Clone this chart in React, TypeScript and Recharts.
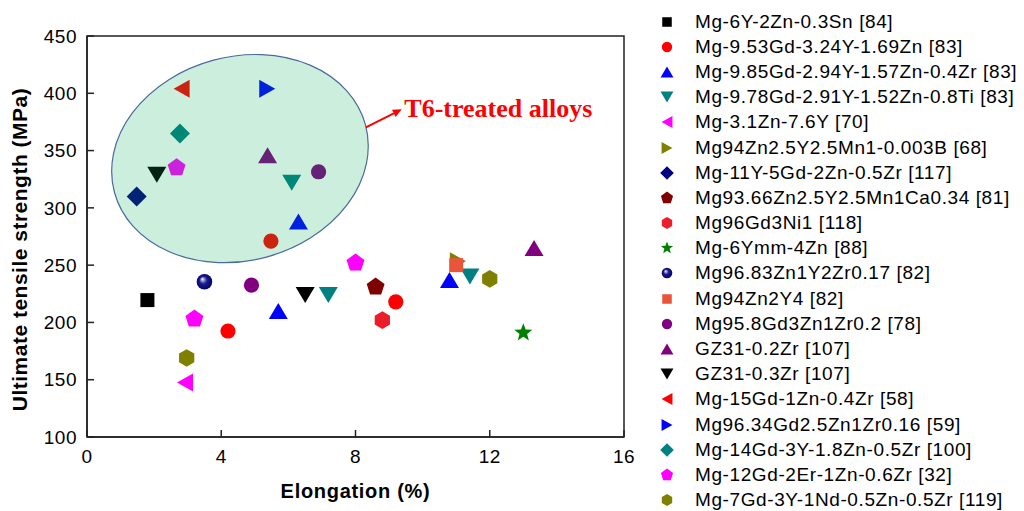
import React from 'react';
import { ScatterChart, Scatter, XAxis, YAxis, ReferenceArea, ReferenceLine, ReferenceDot } from 'recharts';

// legend order = drawing order
const alloyNames = [
    'Mg-6Y-2Zn-0.3Sn [84]',
    'Mg-9.53Gd-3.24Y-1.69Zn [83]',
    'Mg-9.85Gd-2.94Y-1.57Zn-0.4Zr [83]',
    'Mg-9.78Gd-2.91Y-1.52Zn-0.8Ti [83]',
    'Mg-3.1Zn-7.6Y [70]',
    'Mg94Zn2.5Y2.5Mn1-0.003B [68]',
    'Mg-11Y-5Gd-2Zn-0.5Zr [117]',
    'Mg93.66Zn2.5Y2.5Mn1Ca0.34 [81]',
    'Mg96Gd3Ni1 [118]',
    'Mg-6Ymm-4Zn [88]',
    'Mg96.83Zn1Y2Zr0.17 [82]',
    'Mg94Zn2Y4 [82]',
    'Mg95.8Gd3Zn1Zr0.2 [78]',
    'GZ31-0.2Zr [107]',
    'GZ31-0.3Zr [107]',
    'Mg-15Gd-1Zn-0.4Zr [58]',
    'Mg96.34Gd2.5Zn1Zr0.16 [59]',
    'Mg-14Gd-3Y-1.8Zn-0.5Zr [100]',
    'Mg-12Gd-2Er-1Zn-0.6Zr [32]',
    'Mg-7Gd-3Y-1Nd-0.5Zn-0.5Zr [119]',
];

const markerKinds = [
    'square', 'circle', 'triUp', 'triDown', 'triLeft', 'triRight', 'diamond', 'pentagon', 'hexagon', 'star',
    'sphere', 'square', 'circle', 'triUp', 'triDown', 'triLeft', 'triRight', 'diamond', 'pentagon', 'hexagon',
];

const markerColors = [
    '#000000', '#ff0000', '#0000ff', '#008080', '#ff00ff', '#808000', '#000080', '#800000', '#ec1c2a', '#008000',
    '#000080', '#e8553a', '#800080', '#800080', '#000000', '#ff0000', '#0000ff', '#008080', '#ff00ff', '#808000',
];

// elongation (%) per alloy
const elongation = [
    [1.8], [4.2, 9.2, 5.48], [5.7, 10.8, 6.3], [7.19, 11.41, 6.1], [2.92], [11.05], [1.48], [8.6], [8.8], [13.0],
    [3.5], [11.0], [4.9, 6.9], [13.32, 5.38], [6.5, 2.08], [2.82], [5.37], [2.77], [3.2, 8.0, 2.67], [2.97, 12.0],
];

// ultimate tensile strength (MPa) per alloy
const strength = [
    [219.5], [192.5, 218, 271], [210, 237, 288], [224, 240, 322], [147.5], [253.5], [310], [231], [202], [191],
    [235.5], [250], [232.5, 331.5], [265, 346], [224, 329], [404], [404], [365], [203, 252, 335], [169, 238],
];

const xTicks = [0, 4, 8, 12, 16];
const yTicks = [100, 150, 200, 250, 300, 350, 400, 450];

const series = alloyNames.map((name, i) => ({
    name,
    kind: markerKinds[i],
    color: markerColors[i],
    data: elongation[i].map((x, j) => ({ x, y: strength[i][j] })),
}));

const SANS = '"Liberation Sans", Arial, sans-serif';

const poly = (cx: number, cy: number, pts: number[][]) =>
    pts.map(([px, py]) => `${cx + px},${cy + py}`).join(' ');

const regular = (n: number, R: number, start: number) =>
    Array.from({ length: n }, (_, i) => {
        const a = start + (i * 2 * Math.PI) / n;
        return [R * Math.cos(a), R * Math.sin(a)];
    });

const starPts = (R: number, r: number) =>
    Array.from({ length: 10 }, (_, i) => {
        const a = -Math.PI / 2 + (i * Math.PI) / 5;
        const rad = i % 2 === 0 ? R : r;
        return [rad * Math.cos(a), rad * Math.sin(a)];
    });

function Marker({ kind, color, cx, cy, k = 1 }: any) {
    if (cx == null || cy == null) return null;
    const sc = (pts: number[][]) => pts.map(([a, b]) => [a * k, b * k]);
    switch (kind) {
        case 'square':
            return <rect x={cx - 7 * k} y={cy - 7 * k} width={14 * k} height={14 * k} fill={color} />;
        case 'circle':
            return <circle cx={cx} cy={cy} r={7.6 * k} fill={color} />;
        case 'sphere':
            return (
                <g>
                    <defs>
                        <radialGradient id="sphereGrad" cx="0.5" cy="0.5" r="0.55" fx="0.36" fy="0.32">
                            <stop offset="0" stopColor="#ffffff" />
                            <stop offset="0.18" stopColor="#9a9ad0" />
                            <stop offset="0.45" stopColor="#1a1a90" />
                            <stop offset="1" stopColor="#000060" />
                        </radialGradient>
                    </defs>
                    <circle cx={cx} cy={cy} r={7.8 * k} fill="url(#sphereGrad)" />
                </g>
            );
        case 'triUp':
            return <polygon points={poly(cx, cy, sc([[0, -8], [9.5, 8], [-9.5, 8]]))} fill={color} />;
        case 'triDown':
            return <polygon points={poly(cx, cy, sc([[0, 8], [9.5, -8], [-9.5, -8]]))} fill={color} />;
        case 'triLeft':
            return <polygon points={poly(cx, cy, sc([[-8, 0], [8, -9], [8, 9]]))} fill={color} />;
        case 'triRight':
            return <polygon points={poly(cx, cy, sc([[8, 0], [-8, -9], [-8, 9]]))} fill={color} />;
        case 'diamond':
            return <polygon points={poly(cx, cy, sc([[0, -10], [10, 0], [0, 10], [-10, 0]]))} fill={color} />;
        case 'pentagon':
            return <polygon points={poly(cx, cy, sc(regular(5, 9.4, -Math.PI / 2)))} fill={color} />;
        case 'hexagon':
            return <polygon points={poly(cx, cy, sc(regular(6, 8.8, -Math.PI / 2)))} fill={color} />;
        case 'star':
            return <polygon points={poly(cx, cy, sc(starPts(9.5, 4)))} fill={color} />;
        default:
            return null;
    }
}

const XTitle = (props: any) => {
    const vb = props.viewBox || { x: 87, y: 437, width: 537, height: 74 };
    return (
        <text x={vb.x + vb.width / 2} y={vb.y + 61} textAnchor="middle" fontFamily={SANS} fontWeight="bold"
            fontSize={20} letterSpacing={0.7} fill="#000">
            Elongation (%)
        </text>
    );
};

const YTitle = (props: any) => {
    const vb = props.viewBox || { x: 0, y: 36, width: 87, height: 401 };
    const cx = vb.x + 27;
    const cy = vb.y + vb.height / 2 + 13;
    return (
        <text x={cx} y={cy} transform={`rotate(-90 ${cx} ${cy})`} textAnchor="middle" fontFamily={SANS}
            fontWeight="bold" fontSize={21} letterSpacing={0.5} fill="#000">
            Ultimate tensile strength (MPa)
        </text>
    );
};

export default function App() {
    const tickStyle = { fill: '#000', fontSize: 19, fontFamily: SANS, letterSpacing: 0.5 };
    return (
        <div style={{ position: 'absolute', left: 0, top: 0, width: 1024, height: 511, background: '#fff' }}>
            <ScatterChart width={1024} height={511} margin={{ top: 36, right: 400, bottom: 0, left: 0 }}>
                <XAxis
                    type="number"
                    dataKey="x"
                    domain={[0, 16]}
                    ticks={xTicks}
                    allowDataOverflow
                    height={74}
                    tickSize={-7}
                    tickMargin={20}
                    axisLine={{ stroke: '#222', strokeWidth: 1.5 }}
                    tickLine={{ stroke: '#222', strokeWidth: 1.5 }}
                    tick={tickStyle}
                    label={XTitle}
                />
                <YAxis
                    type="number"
                    dataKey="y"
                    domain={[100, 450]}
                    ticks={yTicks}
                    allowDataOverflow
                    width={87}
                    tickSize={-7}
                    tickMargin={17}
                    axisLine={{ stroke: '#222', strokeWidth: 1.5 }}
                    tickLine={{ stroke: '#222', strokeWidth: 1.5 }}
                    tick={tickStyle}
                    label={YTitle}
                />
                {/* plot frame (top and right edges) */}
                <ReferenceArea x1={0} x2={16} y1={100} y2={450} fill="none" stroke="#222" strokeWidth={1.5} />

                {series.map((s) => (
                    <Scatter
                        key={s.name}
                        name={s.name}
                        data={s.data}
                        isAnimationActive={false}
                        shape={(p: any) => <Marker kind={s.kind} color={s.color} cx={p.cx} cy={p.cy} />}
                    />
                ))}

                {/* translucent ellipse over the T6 group */}
                <ReferenceArea
                    x1={0.685}
                    x2={8.43}
                    y1={254}
                    y2={432}
                    zIndex={700}
                    shape={(p: any) => {
                        const cx = p.x + p.width / 2;
                        const cy = p.y + p.height / 2;
                        return (
                            <ellipse cx={cx} cy={cy} rx={Math.abs(p.width) / 2} ry={Math.abs(p.height) / 2}
                                transform={`rotate(-15 ${cx} ${cy})`} fill="#00aa55" fillOpacity={0.2}
                                stroke="#4a6a9c" strokeWidth={1.2} />
                        );
                    }}
                />
                <ReferenceLine
                    segment={[{ x: 8.31, y: 370.2 }, { x: 9.38, y: 386 }]}
                    zIndex={700}
                    shape={(p: any) => {
                        const { x1, y1, x2, y2 } = p;
                        const ang = Math.atan2(y2 - y1, x2 - x1);
                        const L = 9, W = 4;
                        const bx = x2 - L * Math.cos(ang), by = y2 - L * Math.sin(ang);
                        const nx = -Math.sin(ang) * W, ny = Math.cos(ang) * W;
                        return (
                            <g>
                                <line x1={x1} y1={y1} x2={bx} y2={by} stroke="#ff0000" strokeWidth={2} />
                                <polygon points={`${x2},${y2} ${bx + nx},${by + ny} ${bx - nx},${by - ny}`} fill="#ff0000" />
                            </g>
                        );
                    }}
                />
                <ReferenceDot
                    x={9.455}
                    y={379.5}
                    r={0}
                    zIndex={700}
                    shape={(p: any) => (
                        <text x={p.cx} y={p.cy} fill="#ff0000" fontFamily='"Liberation Serif", "Times New Roman", serif'
                            fontWeight="bold" fontSize={26}>
                            T6-treated alloys
                        </text>
                    )}
                />
            </ScatterChart>

            {/* legend */}
            <div style={{ position: 'absolute', left: 655, top: 9, fontFamily: SANS, fontSize: 19, letterSpacing: 0.6, color: '#000' }}>
                {series.map((s) => (
                    <div key={s.name} style={{ height: 25.2, display: 'flex', alignItems: 'center', whiteSpace: 'nowrap' }}>
                        <svg width={24} height={24} style={{ flex: 'none' }}>
                            <Marker kind={s.kind} color={s.color} cx={12} cy={12} k={0.68} />
                        </svg>
                        <span style={{ marginLeft: 16 }}>{s.name}</span>
                    </div>
                ))}
            </div>
        </div>
    );
}
